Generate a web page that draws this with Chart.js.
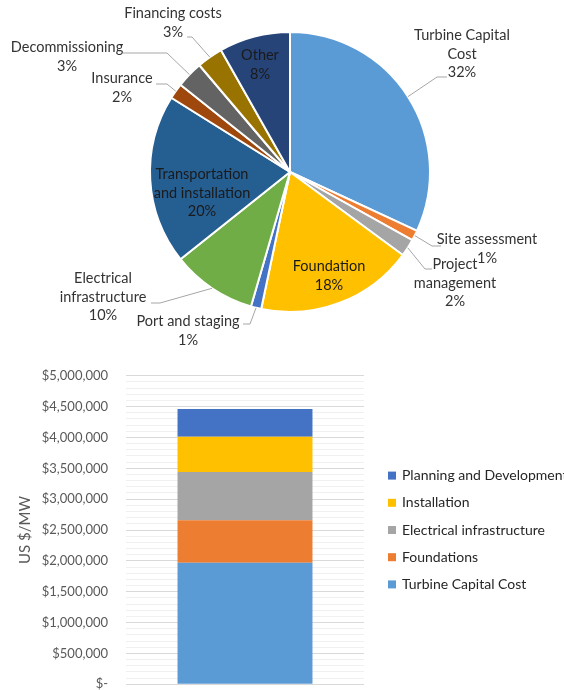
<!DOCTYPE html>
<html>
<head>
<meta charset="utf-8">
<script src="https://cdn.jsdelivr.net/npm/chart.js@4.4.1/dist/chart.umd.min.js"></script>
<style>
  html, body { margin: 0; padding: 0; background: #fff; overflow: hidden; }
  #wrap { position: relative; width: 564px; height: 690px; overflow: hidden; }
  #pieBox { position: absolute; left: 0; top: 0; width: 564px; height: 350px; }
  #barBox { position: absolute; left: 0; top: 350px; width: 564px; height: 360px; }
</style>
</head>
<body>
<div id="wrap">
  <div id="pieBox"><canvas id="pie" width="564" height="350"></canvas></div>
  <div id="barBox"><canvas id="bar" width="564" height="360"></canvas></div>
</div>
<script>
// --- Pie data (share of total cost, %) ---
const pieCategories = ['Turbine Capital Cost', 'Site assessment', 'Project management', 'Foundation',
  'Port and staging', 'Electrical infrastructure', 'Transportation and installation',
  'Insurance', 'Decommissioning', 'Financing costs', 'Other'];
const pieValues = [31.9, 1.2, 2.0, 18.2, 1.2, 9.8, 19.6, 1.8, 3.1, 3.0, 8.2];
const pieColors = ['#5B9BD5', '#ED7D31', '#A5A5A5', '#FFC000', '#4472C4', '#70AD47',
  '#255E91', '#9E480E', '#636363', '#997300', '#264478'];
// label text split over lines, the percentage is added below
const pieLabelLines = [['Turbine Capital', 'Cost'], ['Site assessment'], ['Project', 'management'],
  ['Foundation'], ['Port and staging'], ['Electrical', 'infrastructure'],
  ['Transportation', 'and installation'], ['Insurance'], ['Decommissioning'], ['Financing costs'], ['Other']];

// --- Stacked bar data (US $/MW) ---
const barCategories = [''];
const barSeries = ['Turbine Capital Cost', 'Foundations', 'Electrical infrastructure', 'Installation', 'Planning and Development'];
const turbineCost = [1970000];
const foundationsCost = [690000];
const electricalCost = [780000];
const installationCost = [570000];
const planningCost = [450000];
const barColors = ['#5B9BD5', '#ED7D31', '#A5A5A5', '#FFC000', '#4472C4'];

const FONT = 'Lato, "Open Sans", sans-serif';

// label placement relative to the pie centre (text block centre, leader elbow x/y, leader end x)
const labelLayout = [
  { text: [172, -118], leader: [147, -95, 157] },
  { text: [197, 77], leader: [142, 74, 151] },
  { text: [165, 111], leader: [135, 97, 142] },
  { text: [39, 104] },
  { text: [-102, 159], leader: [-40, 152, -47] },
  { text: [-187, 125], leader: [-130, 131, -139] },
  { text: [-88, 21] },
  { text: [-168, -84], leader: [-123, -88, -134] },
  { text: [-223, -115], leader: [-123, -119, -167] },
  { text: [-117, -149], leader: [-98, -135, -103] },
  { text: [-30, -107] }
];

const pieLabels = {
  id: 'pieLabels',
  afterDatasetsDraw(chart) {
    const ctx = chart.ctx;
    const meta = chart.getDatasetMeta(0);
    ctx.save();
    ctx.font = '14.5px ' + FONT;
    ctx.textAlign = 'center';
    ctx.textBaseline = 'middle';
    meta.data.forEach((arc, i) => {
      const p = arc.getProps(['x', 'y', 'startAngle', 'endAngle', 'outerRadius'], true);
      const lay = labelLayout[i];
      if (lay.leader) {
        const mid = (p.startAngle + p.endAngle) / 2;
        ctx.strokeStyle = '#A6A6A6';
        ctx.lineWidth = 1;
        ctx.beginPath();
        ctx.moveTo(p.x + Math.cos(mid) * p.outerRadius, p.y + Math.sin(mid) * p.outerRadius);
        ctx.lineTo(p.x + lay.leader[0], p.y + lay.leader[1]);
        ctx.lineTo(p.x + lay.leader[2], p.y + lay.leader[1]);
        ctx.stroke();
      }
      const lines = pieLabelLines[i].concat(Math.round(pieValues[i]) + '%');
      const tx = p.x + lay.text[0], ty = p.y + lay.text[1];
      ctx.fillStyle = lay.leader ? '#333333' : '#1a1a1a';
      lines.forEach((t, k) => ctx.fillText(t, tx, ty + (k - (lines.length - 1) / 2) * 18.6));
    });
    ctx.restore();
  }
};

new Chart(document.getElementById('pie'), {
  type: 'pie',
  data: {
    labels: pieCategories,
    datasets: [{ data: pieValues, backgroundColor: pieColors, borderColor: '#ffffff', borderWidth: 2 }]
  },
  options: {
    responsive: false,
    animation: false,
    layout: { padding: { left: 149, right: 133, top: 31, bottom: 37 } },
    plugins: { legend: { display: false }, tooltip: { enabled: false } }
  },
  plugins: [pieLabels]
});

// --- Legend drawn to the right of the bar, top item = top segment ---
const barLegend = {
  id: 'barLegend',
  afterDraw(chart) {
    const ctx = chart.ctx;
    const area = chart.chartArea;
    const n = barSeries.length;
    ctx.save();
    ctx.font = '14px ' + FONT;
    ctx.textBaseline = 'middle';
    ctx.textAlign = 'left';
    for (let k = 0; k < n; k++) {
      const i = n - 1 - k;
      const y = (area.top + area.bottom) / 2 + (k - (n - 1) / 2) * 27.2;
      ctx.fillStyle = barColors[i];
      ctx.fillRect(area.right + 24, y - 4, 8, 8);
      ctx.fillStyle = '#262626';
      ctx.fillText(barSeries[i], area.right + 38, y);
    }
    ctx.restore();
  }
};

const barValues = [turbineCost, foundationsCost, electricalCost, installationCost, planningCost];

new Chart(document.getElementById('bar'), {
  type: 'bar',
  data: {
    labels: barCategories,
    datasets: barSeries.map((name, i) => ({
      label: name,
      data: barValues[i],
      backgroundColor: barColors[i],
      barPercentage: 0.567,
      categoryPercentage: 1
    }))
  },
  options: {
    responsive: false,
    animation: false,
    layout: { padding: { left: 0, right: 200, top: 21, bottom: 24 } },
    scales: {
      x: { stacked: true, display: false },
      y: {
        stacked: true,
        min: 0,
        max: 5000000,
        afterFit: (scale) => { scale.width = 126; },
        border: { display: false },
        grid: {
          drawTicks: false,
          color: (c) => (c.tick && c.tick.value % 500000 === 0) ? '#D9D9D9' : '#F0F0F0',
          lineWidth: 1
        },
        ticks: {
          stepSize: 100000,
          autoSkip: false,
          padding: 18,
          color: '#595959',
          font: { family: FONT, size: 13 },
          callback: (v) => v === 0 ? '$-' : (v % 500000 === 0 ? '$' + v.toLocaleString('en-US') : '')
        },
        title: {
          display: true,
          text: 'US $/MW',
          color: '#595959',
          font: { family: FONT, size: 15 },
          padding: { top: 16, bottom: 0 }
        }
      }
    },
    plugins: { legend: { display: false }, tooltip: { enabled: false } }
  },
  plugins: [barLegend]
});
</script>
</body>
</html>
